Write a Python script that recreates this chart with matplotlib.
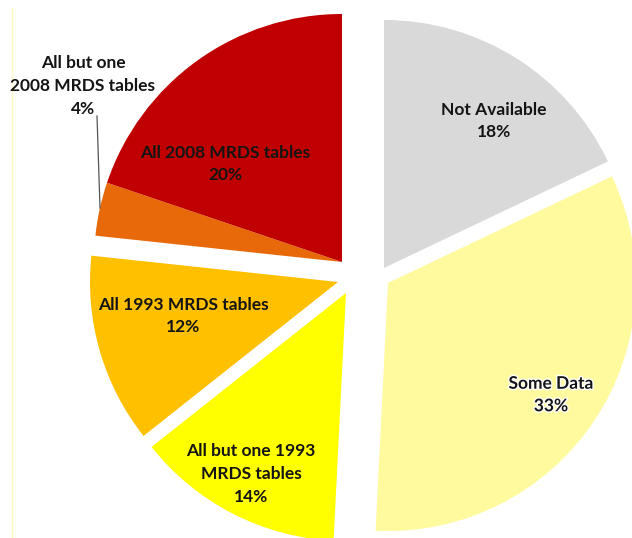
import matplotlib
matplotlib.use("Agg")
import matplotlib.pyplot as plt
import matplotlib.patheffects as pe

# ---- data ----
categories = ["Not Available", "Some Data", "All but one 1993\nMRDS tables",
              "All 1993 MRDS tables", "All but one\n2008 MRDS tables", "All 2008 MRDS tables"]
values = [18.0, 33.0, 13.6, 12.4, 3.5, 19.9]
pct_labels = ["18%", "33%", "14%", "12%", "4%", "20%"]
colors = ["#D9D9D9", "#FFFA9E", "#FFFF00", "#FFC000", "#E8690A", "#C00000"]

# ---- layout / style (pixels, image coords) ----
W, H = 632, 538
center_img = (364, 280)
radius = 248
# per-slice displacement of each wedge (dx, dy) in image pixels
offsets = [(20, -12), (24, 3), (-18, 13), (-26, 2), (-22, -18), (-22, -18)]
label_pos = [(494, 121), (551, 395), (251, 474), (183, 316), (83, 86), (225, 164)]

fig = plt.figure(figsize=(W / 100, H / 100), dpi=100)
ax = fig.add_axes([0, 0, 1, 1])

cx, cy = center_img[0], H - center_img[1]
wedges, _ = ax.pie(values, colors=colors, startangle=90, counterclock=False,
                   radius=radius, center=(cx, cy),
                   wedgeprops=dict(linewidth=0, antialiased=True))
for w, (dx, dy) in zip(wedges, offsets):
    w.set_center((cx + dx, cy - dy))

font = ["Lato", "DejaVu Sans"]
for i, (cat, pct) in enumerate(zip(categories, pct_labels)):
    x, y = label_pos[i]
    t = ax.text(x, H - y, cat + "\n" + pct, ha="center", va="center",
                fontsize=12.5, fontweight="bold", family=font, color="#141414",
                linespacing=1.5)
    if i == 1:
        t.set_path_effects([pe.withStroke(linewidth=2, foreground="white")])

# leader line for the small slice
ax.plot([97, 100], [H - 116, H - 208], color="#555555", linewidth=0.9)

# faint frame edge on the left
ax.plot([12, 12], [H - 8, 0], color="#FFF8C8", linewidth=1.0)

ax.set_xlim(0, W)
ax.set_ylim(0, H)
ax.set_aspect("auto")
ax.set_axis_off()
fig.savefig("out.png", dpi=100)
